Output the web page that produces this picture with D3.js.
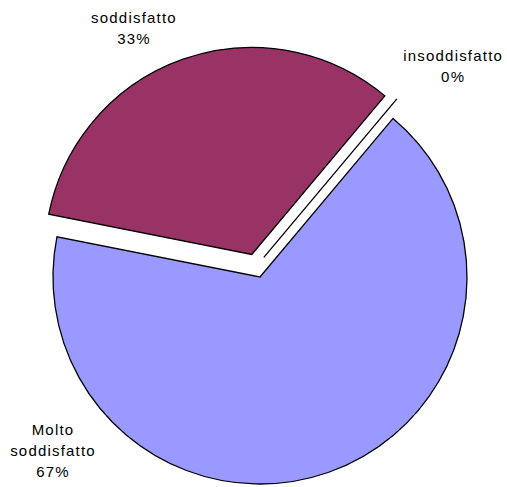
<!DOCTYPE html>
<html>
<head>
<meta charset="utf-8">
<script src="https://cdn.jsdelivr.net/npm/d3@7"></script>
<style>
  html, body { margin: 0; padding: 0; background: #ffffff; }
  svg { display: block; }
  text { font-family: "Liberation Sans", Arial, sans-serif; font-size: 15px; letter-spacing: 1.2px; fill: #000; }
</style>
</head>
<body>
<svg id="chart" width="507" height="487"></svg>
<script>
// ---- data ----
const categories = ["Molto soddisfatto", "soddisfatto", "insoddisfatto"];
const values = [67, 33, 0];
const labelLines = [["Molto", "soddisfatto", "67%"], ["soddisfatto", "33%"], ["insoddisfatto", "0%"]];

// ---- style / layout ----
const colors = ["#9999FF", "#993366", "#FFFFFF"];
const cx = 260, cy = 277, radius = 207;
const startDeg = 40;
// explosion: [distance, direction in degrees clockwise from 12 o'clock]
const explode = [[0, 0], [24, 340], [20, 11]];
// label anchors: [angle deg, distance from pie centre]
const labelPolar = [[230, 271], [333, 279], [42.5, 285]];
const lineH = 21;

const svg = d3.select("#chart");
const g = svg.append("g").attr("transform", `translate(${cx},${cy})`);

const pie = d3.pie().sort(null).value(d => d)
  .startAngle(startDeg * Math.PI / 180)
  .endAngle((startDeg + 360) * Math.PI / 180);
const arcs = pie(values);
const arc = d3.arc().innerRadius(0).outerRadius(radius);

const toXY = (deg, r) => {
  const a = deg * Math.PI / 180;
  return [Math.sin(a) * r, -Math.cos(a) * r];
};

g.selectAll("path.slice")
  .data(arcs)
  .join("path")
  .attr("class", "slice")
  .attr("d", arc)
  .attr("transform", (d, i) => {
    const [dx, dy] = toXY(explode[i][1], explode[i][0]);
    return `translate(${dx},${dy})`;
  })
  .attr("fill", (d, i) => colors[i])
  .attr("stroke", "#000")
  .attr("stroke-width", 1.3)
  .attr("stroke-linejoin", "miter");

const labels = g.selectAll("text.lbl")
  .data(arcs)
  .join("text")
  .attr("class", "lbl")
  .attr("text-anchor", "middle")
  .attr("transform", (d, i) => {
    const [x, y] = toXY(labelPolar[i][0], labelPolar[i][1]);
    const n = labelLines[i].length;
    return `translate(${x},${y - (n - 1) * lineH / 2 + 5})`;
  });
labels.selectAll("tspan")
  .data((d, i) => labelLines[i])
  .join("tspan")
  .attr("x", 0.6)
  .attr("dy", (d, j) => j === 0 ? 0 : lineH)
  .text(d => d);
</script>
</body>
</html>
